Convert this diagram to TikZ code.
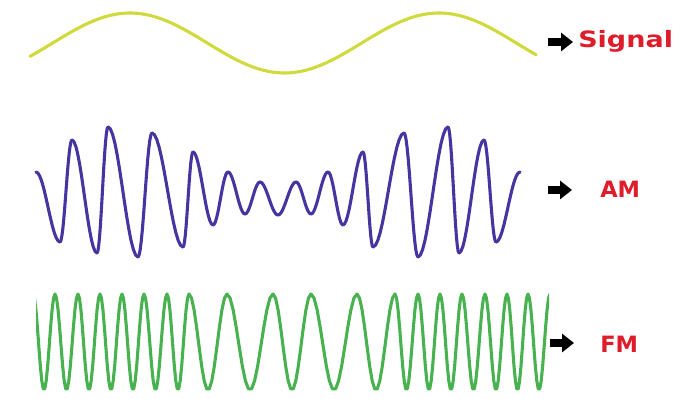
\documentclass[tikz,border=0pt]{standalone}
\usepackage{fontspec}
\setmainfont{DejaVu Sans}
\usetikzlibrary{arrows.meta}
\definecolor{sigyellow}{RGB}{208,218,60}
\definecolor{amblue}{RGB}{72,52,160}
\definecolor{fmgreen}{RGB}{72,178,80}
\definecolor{labelred}{RGB}{222,28,42}

\begin{document}
\begin{tikzpicture}[x=0.025cm, y=-0.025cm,
    wave/.style={line width=2.2pt, line cap=round, line join=round},
    pointer/.style={-{Triangle[length=8.5pt,width=12.8pt]}, line width=5pt, black},
    wavename/.style={anchor=base west, inner sep=0pt, text=labelred,
                     font=\fontsize{16}{18}\selectfont\bfseries}]

    \useasboundingbox (0,0) rectangle (673,399);

    % --- Signal ---
    \draw[wave, sigyellow] plot[domain=30:536, samples=120]
        (\x, {43-30*cos((\x-130)/309*360)});

    % --- AM: half a cosine from one peak/trough to the next ---
    \foreach \xb/\yb [remember=\xb as \xa (initially 36), remember=\yb as \ya (initially 172)]
        in {60/242,72/140,97/253,108/127,138/257,152/133,183/247,193/152,
            213/225,228/172,245/214,260/182,278/215,296/182,311/214,328/172,
            343/225,363/152,373/247,404/133,418/257,448/127,459/253,484/140,
            496/242,520/172}
        \draw[wave, amblue] plot[domain=\xa:\xb, samples=14]
            (\x, {(\ya+\yb)/2+(\ya-\yb)/2*cos((\x-\xa)/(\xb-\xa)*180)});

    % --- FM: one cosine between two peaks ---
    \begin{scope}
        \clip (36,280) rectangle (549,399);
        \foreach \b [remember=\b as \a (initially 33)]
            in {55,78,100,122,144,167,189,227,273,311,357,395,
                418,440,462,485,507,528,550}
            \draw[wave, fmgreen] plot[domain=\a:\b, samples=16]
                (\x, {342-48*cos((\x-\a)/(\b-\a)*360)});
    \end{scope}

    % --- Labels ---
    \node[wavename] (sig) at (578,48) {\scalebox{1.2}[1]{Signal}};
    \node[wavename] (am) at (600,198) {AM};
    \node[wavename] (fm) at (600,353) {FM};

    % --- Arrows ---
    \coordinate (sigfrom) at (548,42);
    \coordinate (sigto) at (573,42);
    \coordinate (amfrom) at (548,190);
    \coordinate (amto) at (572,190);
    \coordinate (fmfrom) at (550,343);
    \coordinate (fmto) at (574,343);
    \draw[pointer] (sigfrom) -- (sigto);
    \draw[pointer] (amfrom) -- (amto);
    \draw[pointer] (fmfrom) -- (fmto);

\end{tikzpicture}
\end{document}
